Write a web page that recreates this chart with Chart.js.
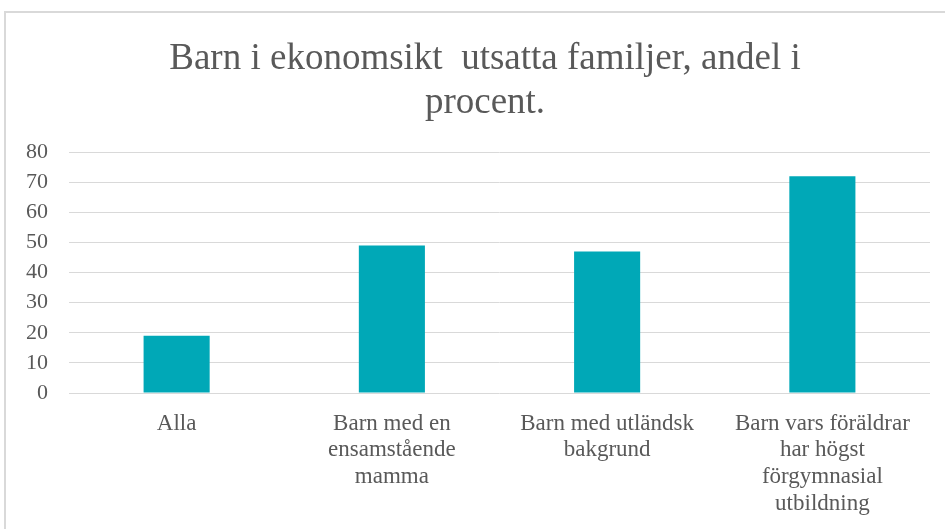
<!DOCTYPE html>
<html>
<head>
<meta charset="utf-8">
<script src="https://cdn.jsdelivr.net/npm/chart.js@4.4.1/dist/chart.umd.min.js"></script>
<style>
  html, body { margin: 0; padding: 0; background: #fff; overflow: hidden; }
  #frame {
    position: absolute; left: 4px; top: 11px; width: 960px; height: 540px;
    border-left: 2px solid #d9d9d9; border-top: 2px solid #d9d9d9;
  }
  #wrap { position: absolute; left: 0; top: 0; width: 945px; height: 529px; }
</style>
</head>
<body>
<div id="frame"></div>
<div id="wrap"><canvas id="chart"></canvas></div>
<script>
// Data
const titleLines = ['Barn i ekonomsikt  utsatta familjer, andel i', 'procent.'];
const categories = [
    ['Alla'],
    ['Barn med en', 'ensamstående', 'mamma'],
    ['Barn med utländsk', 'bakgrund'],
    ['Barn vars föräldrar', 'har högst', 'förgymnasial', 'utbildning']
];
const values = [19, 49, 47, 72];
const yTicks = [0, 10, 20, 30, 40, 50, 60, 70, 80];

const TEXT = '#595959';
const FONT = '"Liberation Serif", "Times New Roman", Times, serif';

// title sits a bit right of the full-width centre in the original
const titleShift = {
    id: 'titleShift',
    afterLayout(chart) {
        if (chart.titleBlock) {
            chart.titleBlock.left += 18;
        }
    }
};

function drawChart() {
    const ctx = document.getElementById('chart').getContext('2d');
    new Chart(ctx, {
        type: 'bar',
        data: {
            labels: categories,
            datasets: [{
                data: values,
                backgroundColor: '#00A8B7',
                borderWidth: 0,
                categoryPercentage: 1,
                barPercentage: 0.307
            }]
        },
        options: {
            responsive: true,
            maintainAspectRatio: false,
            animation: false,
            layout: { padding: { left: 22, right: 15, top: 0, bottom: 0 } },
            plugins: {
                legend: { display: false },
                tooltip: { enabled: false },
                title: {
                    display: true,
                    text: titleLines,
                    color: TEXT,
                    font: { family: FONT, size: 37, weight: 'normal', lineHeight: 1.19 },
                    padding: { top: 37, bottom: 27 }
                }
            },
            scales: {
                x: {
                    grid: { display: false },
                    border: { display: false },
                    ticks: {
                        color: TEXT,
                        font: { family: FONT, size: 23, lineHeight: 1.17 },
                        padding: 9,
                        maxRotation: 0,
                        autoSkip: false
                    },
                    afterFit: scale => { scale.height = 136; }
                },
                y: {
                    min: yTicks[0],
                    max: yTicks[yTicks.length - 1],
                    grid: { color: '#d9d9d9', lineWidth: 1, drawTicks: false },
                    border: { display: false },
                    ticks: {
                        stepSize: 10,
                        color: TEXT,
                        font: { family: FONT, size: 22 },
                        padding: 21
                    },
                    afterFit: scale => { scale.width = 47; }
                }
            }
        },
        plugins: [titleShift]
    });
}

document.fonts.load('36px "Liberation Serif"').then(drawChart, drawChart);
</script>
</body>
</html>
